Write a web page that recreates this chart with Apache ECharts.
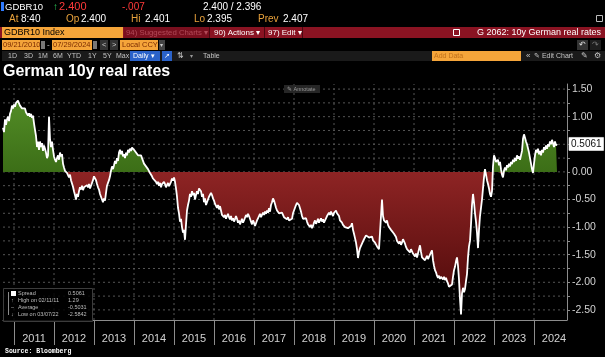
<!DOCTYPE html>
<html><head><meta charset="utf-8">
<script src="https://cdn.jsdelivr.net/npm/echarts@6/dist/echarts.min.js"></script>
<style>html,body{margin:0;padding:0;background:#000;}#c{width:605px;height:357px;}</style>
</head><body><div id="c"></div>
<script>
const realRate = [
0.80,0.72,0.95,0.85,0.95,1.00,0.92,1.05,1.10,1.20,1.15,1.22,1.18,1.25,1.22,1.29,1.24,1.20,1.22,1.15,
1.18,1.12,1.15,1.08,1.10,1.02,1.06,1.00,1.05,0.98,1.02,0.88,0.76,0.65,0.45,0.55,0.40,0.55,0.45,0.52,
0.38,0.48,0.42,0.35,0.25,0.30,1.00,0.60,0.45,0.55,0.40,0.28,0.22,0.18,0.25,0.30,0.22,0.35,0.28,0.32,
0.15,0.08,0.02,0.05,-0.02,-0.05,-0.10,-0.05,-0.15,-0.12,-0.27,-0.35,-0.42,-0.50,-0.40,-0.45,-0.35,-0.28,-0.32,-0.25,
-0.33,-0.28,-0.25,-0.30,-0.24,-0.28,-0.22,-0.30,-0.25,-0.28,-0.15,-0.08,-0.05,-0.15,-0.22,-0.28,-0.32,-0.40,-0.45,-0.50,
-0.55,-0.48,-0.52,-0.38,-0.25,-0.20,-0.15,-0.08,0.02,0.10,0.05,0.12,0.20,0.15,0.25,0.20,0.35,0.40,0.32,0.38,
0.28,0.32,0.25,0.35,0.30,0.40,0.35,0.42,0.38,0.44,0.47,0.40,0.43,0.35,0.38,0.30,0.33,0.28,0.30,0.25,
0.20,0.15,0.12,0.10,0.08,0.05,0.02,-0.02,-0.05,-0.08,-0.12,-0.15,-0.10,-0.18,-0.22,-0.18,-0.25,-0.20,-0.28,-0.22,
-0.25,-0.18,-0.22,-0.28,-0.24,-0.20,-0.26,-0.22,-0.18,-0.12,-0.16,-0.10,-0.18,-0.30,-0.45,-0.65,-0.75,-0.90,-0.85,-1.00,
-1.10,-1.05,-1.23,-0.95,-0.70,-0.60,-0.52,-0.40,-0.45,-0.35,-0.42,-0.38,-0.50,-0.42,-0.35,-0.40,-0.30,-0.27,-0.35,-0.45,
-0.40,-0.55,-0.48,-0.60,-0.55,-0.50,-0.45,-0.42,-0.38,-0.42,-0.48,-0.52,-0.58,-0.55,-0.65,-0.60,-0.68,-0.62,-0.70,-0.78,
-0.75,-0.82,-0.78,-0.85,-0.80,-0.76,-0.82,-0.86,-0.80,-0.88,-0.84,-0.90,-0.86,-0.80,-0.85,-0.92,-0.88,-0.95,-0.90,-0.85,
-0.92,-0.88,-0.83,-0.78,-0.82,-0.76,-0.80,-0.85,-0.90,-0.95,-0.88,-0.92,-0.98,-0.93,-0.88,-0.84,-0.80,-0.76,-0.82,-0.78,
-0.74,-0.78,-0.72,-0.76,-0.70,-0.74,-0.66,-0.72,-0.60,-0.55,-0.48,-0.52,-0.58,-0.65,-0.70,-0.68,-0.75,-0.72,-0.76,-0.74,
-0.78,-0.82,-0.85,-0.80,-0.86,-0.82,-0.88,-0.85,-0.90,-0.85,-0.75,-0.70,-0.65,-0.60,-0.56,-0.54,-0.60,-0.66,-0.72,-0.80,
-0.85,-0.82,-0.88,-0.84,-0.90,-0.95,-0.92,-1.00,-0.96,-1.02,-0.98,-0.92,-0.88,-0.94,-0.90,-0.85,-0.92,-0.88,-0.84,-0.90,
-0.86,-0.92,-0.88,-0.84,-0.80,-0.78,-0.74,-0.78,-0.72,-0.76,-0.80,-0.74,-0.72,-0.70,-0.75,-0.72,-0.80,-0.88,-0.85,-0.92,
-0.96,-0.93,-1.00,-1.03,-0.98,-1.02,-1.00,-1.04,-0.98,-0.93,-1.05,-1.12,-1.20,-1.28,-1.40,-1.56,-1.45,-1.38,-1.35,-1.30,
-1.28,-1.22,-1.20,-1.15,-1.18,-1.14,-1.19,-1.16,-1.20,-1.17,-1.24,-1.22,-1.28,-1.26,-1.35,-1.32,-1.40,-1.38,-1.42,-0.50,
-0.80,-0.88,-0.85,-0.92,-0.88,-0.96,-1.00,-0.98,-1.05,-1.02,-1.08,-1.12,-1.10,-1.18,-1.25,-1.22,-1.30,-1.26,-1.32,-1.28,
-1.22,-1.26,-1.30,-1.36,-1.40,-1.38,-1.42,-1.46,-1.40,-1.44,-1.48,-1.50,-1.53,-1.48,-1.55,-1.52,-1.40,-1.33,-1.45,-1.55,
-1.58,-1.54,-1.60,-1.56,-1.52,-1.58,-1.54,-1.50,-1.46,-1.42,-1.60,-1.70,-1.78,-1.82,-1.88,-1.92,-1.88,-1.94,-1.90,-1.92,
-1.95,-1.90,-1.96,-1.92,-1.98,-2.02,-2.08,-2.05,-2.10,-2.04,-1.90,-1.78,-1.72,-1.62,-1.55,-1.70,-1.95,-2.30,-2.5842,-2.20,
-2.10,-2.18,-2.12,-1.98,-1.85,-1.55,-1.35,-1.25,-0.95,-0.60,-0.40,-0.55,-0.75,-0.90,-1.10,-1.38,-1.05,-0.80,-0.65,-0.50,
-0.30,-0.10,0.05,-0.05,-0.15,-0.22,-0.30,-0.40,-0.45,-0.35,0.10,0.30,0.25,0.18,0.15,0.22,0.12,0.18,0.05,-0.05,
-0.10,0.02,0.08,0.03,0.12,0.08,0.15,0.10,0.18,0.14,0.22,0.18,0.25,0.20,0.30,0.24,0.28,0.22,0.30,0.38,
0.60,0.68,0.62,0.55,0.50,0.48,0.35,0.25,0.15,0.05,-0.02,0.15,0.30,0.40,0.35,0.42,0.32,0.38,0.30,0.40,
0.35,0.45,0.40,0.48,0.42,0.50,0.46,0.55,0.50,0.58,0.52,0.45,0.55,0.48,0.5061
];
const firstYear = 2010.725;   // 2010-09-21 as decimal year
const stepYears = 0.025;      // sampling step (~9 days)
const yearTicks = [2011,2012,2013,2014,2015,2016,2017,2018,2019,2020,2021,2022,2023,2024];
const yLabelValues = [-2.5,-2.0,-1.5,-1.0,-0.5,0,0.5,1.0,1.5];
const yGridValues = [-2.5,-2.25,-2.0,-1.75,-1.5,-1.25,-1.0,-0.75,-0.5,-0.25,0,0.25,0.5,0.75,1.0,1.25,1.5];
const legendNames = ['Spread','High on 02/11/11','Average','Low on 03/07/22'];
const legendValues = ['0.5061','1.29','-0.5031','-2.5842'];
const chartTitle = 'German 10y real rates';

const X_MIN = 2010.725, X_MAX = 2024.825, Y_MIN = -2.683, Y_MAX = 1.592;
const pts = realRate.map((v,i)=>[+(firstYear + i*stepYears).toFixed(3), v]);
const posPts = pts.map(p=>[p[0], Math.max(p[1],0)]);
const negPts = pts.map(p=>[p[0], Math.min(p[1],0)]);

const FF = 'Liberation Sans';
function T(x,y,text,fill,size,extra){
  return {type:'text',x:x,y:y,silent:true,z:100,style:Object.assign({text:text,fill:fill,fontSize:size,fontFamily:FF,verticalAlign:'middle',align:'left'},extra||{})};
}
function R(x,y,w,h,fill,extra){
  return {type:'rect',silent:true,z:99,shape:{x:x,y:y,width:w,height:h},style:Object.assign({fill:fill},extra||{})};
}
function L(x1,y1,x2,y2,col){
  return {type:'line',silent:true,z:100,shape:{x1:x1,y1:y1,x2:x2,y2:y2},style:{stroke:col,lineWidth:1}};
}
const OR='#f5a53a', GT='#c4c4c4';
const graphics = [
  // row 1
  R(1,2,3,9,'#2f7bff'),
  T(5,7,'GDBR10','#ffffff',9.5),
  T(53,7,'\u2191','#2fd05a',10),
  T(59,7,'2.400','#ff3a3a',11),
  T(122,7,'-.007','#ff3a3a',10),
  T(203,7,'2.400 / 2.396','#ffffff',10),
  // row 2
  T(9,19,'At','#e9a23b',10), T(21,19,'8:40','#ffffff',10),
  T(66,19,'Op','#e9a23b',10), T(81,19,'2.400','#ffffff',10),
  T(131,19,'Hi','#e9a23b',10), T(145,19,'2.401','#ffffff',10),
  T(194,19,'Lo','#e9a23b',10), T(207,19,'2.395','#ffffff',10),
  T(258,19,'Prev','#e9a23b',10), T(283,19,'2.407','#ffffff',10),
  R(596.5,15.5,6,6,'none',{stroke:'#bbbbbb',lineWidth:1}),
  // row 3
  R(0,27,605,11,'#8a1322'),
  R(2,27,121,11,OR),
  T(4,32.5,'GDBR10 Index','#000000',9),
  R(124,27,85,11,'#7a0f1e'),
  T(126,32.5,'94) Suggested Charts \u25BE','#b24a58',7.8),
  T(214,32.5,'90) Actions \u25BE','#ffffff',8),
  T(268,32.5,'97) Edit \u25BE','#ffffff',8),
  L(209.5,27,209.5,38,'#4a0710'), L(264.5,27,264.5,38,'#4a0710'), L(302.5,27,302.5,38,'#4a0710'),
  R(453.5,29.5,6,6,'none',{stroke:'#ffffff',lineWidth:1}),
  T(601,32.5,'G 2062: 10y German real rates','#ffffff',9,{align:'right'}),
  // row 4
  R(2,40,38,10,OR), T(3,45,'09/21/2010','#7a2a00',7.5),
  R(41,41,4,8,'#777777'),
  T(47,45,'-','#cccccc',8),
  R(52,40,40,10,OR), T(53,45,'07/29/2024','#7a2a00',7.5),
  R(93,41,4,8,'#777777'),
  R(100,40,8,10,'#333333'), T(102,45,'<','#cccccc',7.5),
  R(110,40,8,10,'#333333'), T(112,45,'>','#cccccc',7.5),
  R(120,40,38,10,OR), T(122,45,'Local CCY','#7a2a00',7.5),
  R(159,40,6,10,'#444444'), T(160,45,'\u25BE','#cccccc',6),
  R(577,40,11,10,'#333333'), T(579,45,'\u21B6','#dddddd',8),
  R(590,40,11,10,'#1e1e1e'), T(592,45,'\u21B7','#777777',8),
  // row 5
  R(2,51,603,10,'#1a1a1a'),
  T(8,56,'1D',GT,7), T(24,56,'3D',GT,7), T(38,56,'1M',GT,7),
  T(53,56,'6M',GT,7), T(67,56,'YTD',GT,7), T(88,56,'1Y',GT,7),
  T(103,56,'5Y',GT,7), T(116,56,'Max',GT,7),
  R(130,51,30,10,'#2a62c9'), T(133,56,'Daily \u25BE','#ffffff',7),
  R(162,51,10,10,'#2a62c9'), T(164,56,'\u2197','#ffffff',7),
  T(177,56,'\u21C5',GT,7.5), T(190,56,'\u25BE','#999999',6),
  T(203,56,'Table',GT,7),
  R(432,51,89,10,OR), T(434,56,'Add Data','#c0701a',7),
  T(526,56,'\u00AB',GT,8), T(534,56,'\u270E Edit Chart',GT,7),
  T(581,56,'\u270E',GT,7.5), T(594,56,'\u2699',GT,8),
  // annotate
  R(284,85,36,8,'#262626'), T(287,89,'\u270E Annotate','#9a9a9a',5.5),
  // legend box
  R(3.5,288.5,89,33,'rgba(0,0,0,0.85)',{stroke:'#3c3c3c',lineWidth:1}),
  L(8.5,292,8.5,315,'#8a8a8a'),
  R(11,291,5,5,'#ffffff'),
  T(11,300,'\u2191','#bdbdbd',5.5), T(11,307,'\u2013','#bdbdbd',5.5), T(11,314,'\u2193','#bdbdbd',5.5),
  T(18,293.5,legendNames[0],'#bdbdbd',5.5), T(68,293.5,legendValues[0],'#bdbdbd',5.5),
  T(18,300.5,legendNames[1],'#bdbdbd',5.5), T(68,300.5,legendValues[1],'#bdbdbd',5.5),
  T(18,307.5,legendNames[2],'#bdbdbd',5.5), T(68,307.5,legendValues[2],'#bdbdbd',5.5),
  T(18,314.5,legendNames[3],'#bdbdbd',5.5), T(68,314.5,legendValues[3],'#bdbdbd',5.5),
  // source
  T(5,351,'Source: Bloomberg','#ffffff',6.5,{fontFamily:'Liberation Mono',fontWeight:'bold'})
];

const gridStyle = {type:[2,3],color:'#555555',width:1};
const gridSeries = yGridValues.map(v=>({type:'line',data:[[X_MIN,v],[X_MAX,v]],z:1,silent:true,symbol:'none',showSymbol:false,lineStyle:gridStyle}))
  .concat(yearTicks.map(v=>({type:'line',data:[[v,Y_MIN],[v,Y_MAX]],z:1,silent:true,symbol:'none',showSymbol:false,lineStyle:gridStyle})));

const chart = echarts.init(document.getElementById('c'), null, {renderer:'canvas'});
chart.setOption({
  backgroundColor:'#000000',
  animation:false,
  textStyle:{fontFamily:FF},
  title:{text:chartTitle,left:3,top:64,padding:0,textStyle:{color:'#ffffff',fontSize:16,fontWeight:'bold',fontFamily:FF}},
  grid:{left:3,right:38,top:84,bottom:37,containLabel:false},
  xAxis:{type:'value',min:X_MIN,max:X_MAX,
    axisLine:{show:true,onZero:false,lineStyle:{color:'#8c8c8c',width:1}},
    axisTick:{show:true,customValues:yearTicks,length:25,lineStyle:{color:'#8c8c8c',width:1}},
    axisLabel:{show:true,customValues:yearTicks.map(y=>y+0.5),formatter:v=>String(Math.floor(v)),color:'#d2d2d2',fontSize:11,margin:13},
    splitLine:{show:false}},
  yAxis:{type:'value',position:'right',min:Y_MIN,max:Y_MAX,
    axisLine:{show:true,onZero:false,lineStyle:{color:'#8c8c8c',width:1}},
    axisTick:{show:true,customValues:yGridValues,length:3,lineStyle:{color:'#8c8c8c'}},
    axisLabel:{show:true,customValues:yLabelValues,formatter:v=>v.toFixed(2),color:'#d2d2d2',fontSize:10.5,margin:5},
    splitLine:{show:false}},
  graphic:graphics,
  series:gridSeries.concat([
    {type:'line',name:'pos',data:posPts,z:2,silent:true,showSymbol:false,symbol:'none',lineStyle:{width:0,opacity:0},
     areaStyle:{origin:0,opacity:1,color:new echarts.graphic.LinearGradient(0,0,0,1,[{offset:0,color:'#528c26'},{offset:1,color:'#3c6e17'}])}},
    {type:'line',name:'neg',data:negPts,z:2,silent:true,showSymbol:false,symbol:'none',lineStyle:{width:0,opacity:0},
     areaStyle:{origin:0,opacity:1,color:new echarts.graphic.LinearGradient(0,0,0,1,[{offset:0,color:'#8e2424'},{offset:1,color:'#4a0808'}])}},
    {type:'line',name:'Spread',data:pts,z:3,showSymbol:false,symbol:'none',lineStyle:{color:'#ffffff',width:1.8},
     endLabel:{show:true,distance:12,formatter:p=>p.value[1].toFixed(4),backgroundColor:'#ffffff',color:'#111111',
       fontSize:10,fontFamily:FF,padding:[2,2,1,2],borderColor:'#999999',borderWidth:0.5}}
  ])
});
</script></body></html>
